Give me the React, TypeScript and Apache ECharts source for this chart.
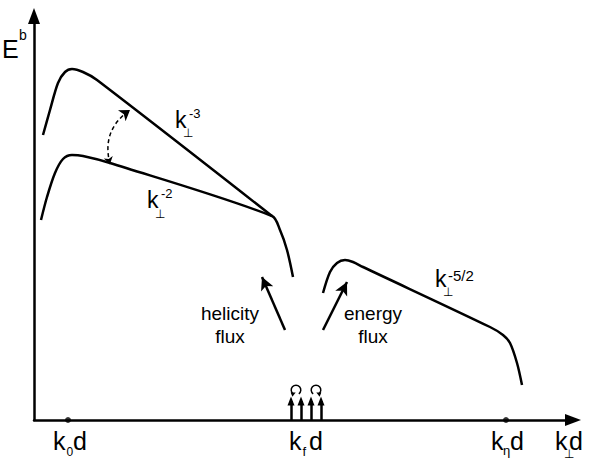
import { useEffect, useRef } from "react";
import * as echarts from "echarts";

// Data coordinates: x = position along the k⊥d axis, y = E^b (schematic units)
const upperCurveK3: [number, number][] = [
  [9, 285], [16, 310], [24, 337], [31, 348], [38, 351], [49, 348], [63, 340], [238, 204],
];
const lowerCurveK2: [number, number][] = [
  [7, 200], [13, 223], [21, 247], [29, 261], [38, 265], [49, 264], [76, 257], [238, 204],
  [246, 190], [253, 170], [259, 143],
];
const rightCurveK52: [number, number][] = [
  [289, 127], [296, 148], [303, 157], [311, 160], [319, 158], [329, 153], [456, 93],
  [469, 85], [476, 77], [483, 57], [488, 35],
];
const tickDots: [number, number][] = [[34, 0], [472, 0]]; // k0d, kηd
const forcingX = [257, 267, 277, 287];
const forcingTop = 19;
const curlHeight = 30;
const dashedArrow: [number, number][] = [[76, 256], [96, 310]];
const helicityArrow: [number, number][] = [[251, 90], [228, 143]];
const energyArrow: [number, number][] = [[289, 90], [313, 138]];

const SANS = "'Liberation Sans', Arial, Helvetica, sans-serif";
const PERP = "'DejaVu Sans', sans-serif";

function txt(text: string, x: number, y: number, size: number, family = SANS, align = "left") {
  return {
    type: "text",
    x,
    y,
    silent: true,
    style: { text, fontSize: size, fontFamily: family, fill: "#000", align, verticalAlign: "middle" },
  };
}

export default function App() {
  const ref = useRef<HTMLDivElement>(null);
  useEffect(() => {
    if (!ref.current) return;
    const chart = echarts.init(ref.current, null, { renderer: "svg" });
    const curveLine = { color: "#000", width: 2.5 };
    const axisCommon = {
      type: "value",
      axisLine: {
        show: true,
        onZero: false,
        symbol: ["none", "triangle"],
        symbolSize: [12, 16],
        lineStyle: { color: "#000", width: 2.5 },
      },
      axisTick: { show: false },
      axisLabel: { show: false },
      splitLine: { show: false },
    };
    const option: any = {
      animation: false,
      backgroundColor: "#fff",
      grid: { left: 34, right: 26, top: 16, bottom: 45 },
      xAxis: { ...axisCommon, min: 0, max: 539 },
      yAxis: { ...axisCommon, min: 0, max: 404 },
      series: [
        {
          type: "line",
          name: "k^-3",
          data: upperCurveK3,
          smooth: 0.3,
          showSymbol: false,
          symbol: "none",
          lineStyle: curveLine,
          silent: true,
        },
        {
          type: "line",
          name: "k^-2",
          data: lowerCurveK2,
          smooth: 0.3,
          showSymbol: false,
          symbol: "none",
          lineStyle: curveLine,
          silent: true,
        },
        {
          type: "line",
          name: "k^-5/2",
          data: rightCurveK52,
          smooth: 0.3,
          showSymbol: false,
          symbol: "none",
          lineStyle: curveLine,
          silent: true,
        },
        {
          type: "scatter",
          data: tickDots,
          symbolSize: 6,
          itemStyle: { color: "#000" },
          clip: false,
          silent: true,
        },
        {
          type: "lines",
          coordinateSystem: "cartesian2d",
          silent: true,
          symbol: ["arrow", "arrow"],
          symbolSize: [7, 10],
          lineStyle: { color: "#000", width: 1.5, type: [4, 3], curveness: 0.35, opacity: 1 },
          data: [{ coords: dashedArrow }],
        },
        {
          type: "line",
          data: [],
          silent: true,
          markLine: {
            silent: true,
            symbol: ["none", "arrow"],
            symbolSize: [10, 13],
            label: { show: false },
            lineStyle: { color: "#000", width: 2.5, type: "solid" },
            data: [
              [{ coord: helicityArrow[0] }, { coord: helicityArrow[1] }],
              [{ coord: energyArrow[0] }, { coord: energyArrow[1] }],
            ],
          },
        },
        {
          type: "line",
          data: [],
          silent: true,
          markLine: {
            silent: true,
            symbol: ["none", "triangle"],
            symbolSize: [7, 9],
            label: { show: false },
            lineStyle: { color: "#000", width: 2.5, type: "solid" },
            data: forcingX.map((x) => [{ coord: [x, 0] }, { coord: [x, forcingTop] }]),
          },
        },
      ],
    };
    chart.setOption(option);

    // curls above the forcing arrows
    const curls: any[] = [];
    const pairs = [
      [forcingX[0], forcingX[1], -1],
      [forcingX[2], forcingX[3], 1],
    ];
    pairs.forEach(([a, b, side]) => {
      const p = chart.convertToPixel({ gridIndex: 0 }, [(a + b) / 2, curlHeight]) as number[];
      const cx = p[0];
      const cy = p[1];
      const r = 4.8;
      curls.push({
        type: "arc",
        silent: true,
        shape: { cx, cy, r, startAngle: Math.PI * 0.7, endAngle: Math.PI * 2.3, clockwise: true },
        style: { stroke: "#000", lineWidth: 1.5, fill: "none" },
      });
      const ang = side < 0 ? Math.PI * 0.7 : Math.PI * 0.3;
      const ex = cx + r * Math.cos(ang);
      const ey = cy + r * Math.sin(ang);
      curls.push({
        type: "polygon",
        silent: true,
        shape: {
          points: [
            [ex - 2.5, ey - 1.5],
            [ex + 2.5, ey - 1.5],
            [ex + side * 0.8, ey + 2.8],
          ],
        },
        style: { fill: "#000" },
      });
    });

    const texts = [
      txt("E", 2, 48.5, 25),
      txt("b", 19, 35, 14),
      // k0d
      txt("k", 53, 441, 25),
      txt("0", 66.5, 451.5, 12),
      txt("d", 73, 441, 25),
      // kfd
      txt("k", 289, 441, 25),
      txt("f", 302.5, 451.5, 13),
      txt("d", 309, 441, 25),
      // kηd
      txt("k", 491, 441, 25),
      txt("η", 503, 450, 13),
      txt("d", 510, 441, 25),
      // k⊥d
      txt("k", 555, 441, 25),
      txt("⊥", 564, 454, 12, PERP),
      txt("d", 569, 441, 25),
      // k⊥^-3
      txt("k", 175, 120, 23),
      txt("-3", 189, 113.5, 13),
      txt("⊥", 183, 133, 12, PERP),
      // k⊥^-2
      txt("k", 147, 200, 23),
      txt("-2", 161, 193.5, 13),
      txt("⊥", 155, 214, 12, PERP),
      // k⊥^-5/2
      txt("k", 435, 279, 23),
      txt("-5/2", 448, 275, 15),
      txt("⊥", 443, 292, 12, PERP),
      // flux labels
      txt("helicity", 230, 313, 19, SANS, "center"),
      txt("flux", 230, 336, 19, SANS, "center"),
      txt("energy", 373, 313, 19, SANS, "center"),
      txt("flux", 373, 336, 19, SANS, "center"),
    ];

    chart.setOption({ graphic: { elements: [...curls, ...texts] } });

    return () => chart.dispose();
  }, []);

  return (
    <div
      ref={ref}
      style={{ position: "fixed", left: 0, top: 0, width: 599, height: 465, background: "#fff" }}
    />
  );
}
